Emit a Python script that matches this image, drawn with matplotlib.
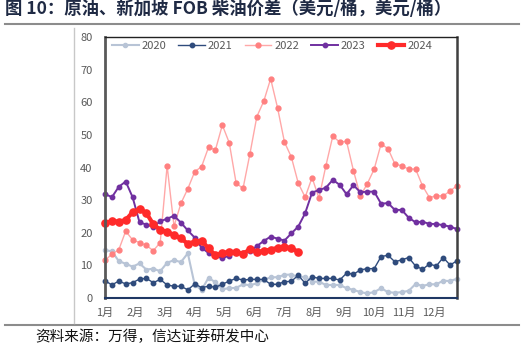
import matplotlib
matplotlib.use("Agg")
import matplotlib.pyplot as plt
from matplotlib.lines import Line2D

plt.rcParams['font.family'] = ['Noto Sans CJK SC', 'DejaVu Sans']

months = ["1月", "2月", "3月", "4月", "5月", "6月", "7月", "8月", "9月", "10月", "11月", "12月"]
y_ticks = [0, 10, 20, 30, 40, 50, 60, 70, 80]

s2020 = [14.7, 14.3, 11.3, 10.5, 9.6, 10.6, 8.7, 9.0, 8.2, 10.8,
         11.6, 11.0, 13.7, 4.0, 2.5, 6.2, 4.8, 2.7, 3.0, 3.1,
         4.2, 3.9, 4.5, 5.6, 6.3, 6.4, 7.1, 7.2, 6.4, 6.5,
         5.0, 5.0, 4.0, 4.0, 4.0, 3.0, 2.5, 1.8, 1.4, 1.8,
         3.0, 1.8, 1.6, 1.8, 2.2, 4.3, 3.7, 4.2, 4.2, 5.3,
         5.2, 5.9]
s2021 = [5.3, 4.0, 5.2, 4.3, 4.7, 5.8, 6.0, 4.7, 5.7, 4.0,
         3.6, 3.6, 2.5, 4.3, 3.2, 3.6, 3.3, 4.2, 5.2, 6.0,
         5.5, 5.7, 5.7, 5.7, 4.2, 4.2, 5.0, 5.1, 7.0, 4.5,
         6.5, 6.0, 6.0, 6.0, 5.5, 7.6, 7.3, 8.6, 9.0, 9.0,
         12.7, 13.1, 11.1, 11.7, 12.4, 9.8, 8.8, 10.4, 9.8, 12.4,
         10.1, 11.4]
s2022 = [11.6, 13.4, 14.8, 20.5, 17.8, 17.0, 16.1, 14.5, 17.0, 40.5,
         22.0, 29.0, 33.5, 38.7, 40.3, 46.2, 45.4, 53.0, 47.6, 35.2,
         33.6, 44.2, 55.6, 60.3, 67.2, 58.3, 47.8, 43.2, 35.2, 30.9,
         36.9, 30.6, 40.5, 49.6, 47.8, 48.0, 39.0, 31.3, 35.0, 39.5,
         47.2, 45.8, 41.1, 40.5, 39.5, 39.5, 34.4, 30.8, 31.3, 31.3,
         32.8, 34.4]
s2023 = [31.9, 30.9, 34.1, 35.7, 30.9, 23.2, 22.5, 21.8, 23.5, 24.3,
         25.2, 23.1, 20.7, 18.5, 15.4, 13.8, 12.9, 12.2, 13.0, 14.1,
         13.7, 14.3, 15.9, 17.5, 18.8, 18.2, 17.6, 19.8, 21.9, 26.0,
         32.3, 33.1, 33.8, 36.2, 34.7, 31.8, 34.6, 32.4, 32.6, 32.6,
         28.9, 29.1, 27.0, 27.0, 24.6, 23.2, 23.4, 22.7, 22.7, 22.3,
         21.9, 21.1]
s2024 = [22.9, 23.6, 23.4, 23.9, 26.3, 27.3, 26.0, 22.6, 20.9, 20.3,
         19.3, 18.3, 16.6, 17.3, 17.6, 15.2, 13.1, 13.7, 14.2, 14.0,
         13.6, 14.9, 14.0, 14.5, 14.8, 15.4, 15.7, 15.2, 14.2]

W, H = 524, 349
fig = plt.figure(figsize=(W / 100, H / 100), dpi=100)
ax = fig.add_axes([105 / W, 1 - 298 / H, 352 / W, 261 / H])

def weeks(s):
    return list(range(len(s)))

ax.plot(weeks(s2020), s2020, color='#B8C4D6', lw=1.5, marker='o', ms=3,
        mfc='#B8C4D6', mec='#B8C4D6', label='2020', clip_on=False)
ax.plot(weeks(s2021), s2021, color='#2F4B7C', lw=1.0, marker='o', ms=3.2,
        mfc='#2F4B7C', mec='#2F4B7C', label='2021', clip_on=False)
ax.plot(weeks(s2022), s2022, color='#FFA8A8', lw=1.0, marker='o', ms=3.5,
        mfc='#FF8080', mec='#FF8080', label='2022', clip_on=False)
ax.plot(weeks(s2023), s2023, color='#7030A0', lw=1.4, marker='o', ms=3.2,
        mfc='#7030A0', mec='#7030A0', label='2023', clip_on=False)
ax.plot(weeks(s2024), s2024, color='#FF2A2A', lw=3.0, marker='o', ms=5.2,
        mfc='#FF2A2A', mec='#FF2A2A', label='2024', clip_on=False)

ax.set_xlim(0, 51)
ax.set_ylim(0, 80)
ax.set_yticks(y_ticks)
ax.set_xticks([k * 52 / 12 for k in range(12)])
ax.set_xticklabels(months)
ax.tick_params(axis='both', length=0, labelcolor='#595959', labelsize=8)
ax.tick_params(axis='y', pad=9)
ax.tick_params(axis='x', pad=7)

ax.spines['left'].set_color('#595959')
ax.spines['left'].set_linewidth(2)
ax.spines['right'].set_color('#404040')
ax.spines['right'].set_linewidth(1.8)
ax.spines['top'].set_color('#222222')
ax.spines['top'].set_linewidth(1.0)
ax.spines['bottom'].set_color('#1F3864')
ax.spines['bottom'].set_linewidth(1.5)

leg = ax.legend(loc='center', bbox_to_anchor=(272 / W, 1 - 46 / H),
                bbox_transform=fig.transFigure, ncol=5, frameon=False,
                fontsize=8, handlelength=2.4, handletextpad=0.25,
                columnspacing=1.1, borderaxespad=0)
for t in leg.get_texts():
    t.set_color('#595959')

fig.text(5 / W, 1 - 9 / H,
         "图 10：原油、新加坡 FOB 柴油价差（美元/桶，美元/桶）",
         fontsize=12.5, fontweight='bold', color='#1F2A44',
         ha='left', va='center')
fig.add_artist(Line2D([5 / W, 519 / W], [1 - 24 / H, 1 - 24 / H],
                      color='#8C8C8C', lw=1.5))
fig.add_artist(Line2D([5 / W, 519 / W], [1 - 325 / H, 1 - 325 / H],
                      color='#8C8C8C', lw=1.5))
fig.add_artist(Line2D([74 / W, 74 / W], [1 - 28 / H, 1 - 323 / H],
                      color='#C8C8C8', lw=1))
fig.text(35 / W, 1 - 337 / H, "资料来源：万得，信达证券研发中心",
         fontsize=10.5, color='#111111', ha='left', va='center')

fig.savefig('out.png', dpi=100)
